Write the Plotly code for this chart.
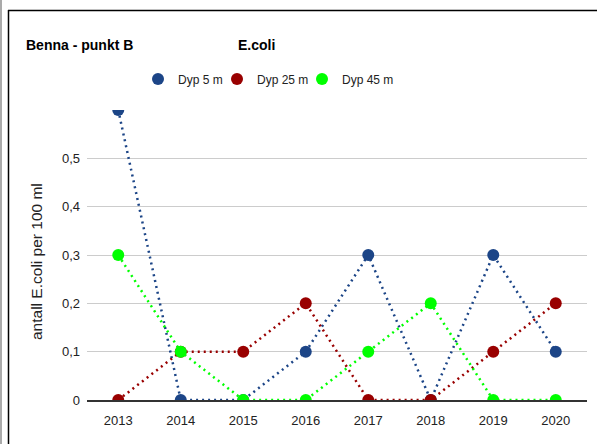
import plotly.graph_objects as go

# data
years = ["2013", "2014", "2015", "2016", "2017", "2018", "2019", "2020"]
dyp_5 = [0.6, 0, 0, 0.1, 0.3, 0, 0.3, 0.1]
dyp_25 = [0, 0.1, 0.1, 0.2, 0, 0, 0.1, 0.2]
dyp_45 = [0.3, 0.1, 0, 0, 0.1, 0.2, 0, 0]
y_ticks = [0, 0.1, 0.2, 0.3, 0.4, 0.5]

series = [
    ("Dyp 5 m", dyp_5, "#1c4587"),
    ("Dyp 25 m", dyp_25, "#990000"),
    ("Dyp 45 m", dyp_45, "#00ff00"),
]

# pixel -> paper helpers (plot area 87..587 x 110..400)
L, R, T, B = 87, 10, 110, 44
W, H = 597 - L - R, 444 - T - B
px = lambda v: (v - L) / W
py = lambda v: (444 - B - v) / H

legend_ids = ["legend", "legend2", "legend3"]
legend_left = [138, 217, 302]

fig = go.Figure()
for name, vals, col in series:
    fig.add_trace(go.Scatter(
        x=years, y=vals, name=name, mode="lines+markers",
        line=dict(color=col, width=2.5, dash="2px,4px"),
        marker=dict(color=col, size=12), showlegend=False,
    ))
# legend entries show only the dot, one small legend per series
for (name, vals, col), lg in zip(series, legend_ids):
    fig.add_trace(go.Scatter(
        x=[None], y=[None], name=name, mode="markers", legend=lg,
        marker=dict(color=col, size=12),
    ))

legend_style = dict(orientation="h", y=py(79), xanchor="left", yanchor="middle",
                    font=dict(size=12), itemclick=False, bgcolor="rgba(0,0,0,0)")

fig.update_layout(
    width=597, height=444,
    margin=dict(l=L, r=R, t=T, b=B),
    paper_bgcolor="white", plot_bgcolor="white",
    font=dict(family="Liberation Sans, Arial, sans-serif", color="#222", size=13),
    separators=", ",
    hovermode=False,
    xaxis=dict(type="category", range=[-0.5, 7.5], showgrid=False, showline=True,
               linecolor="#333", linewidth=1.5, ticks="", ticklabelstandoff=8,
               tickfont=dict(size=13), fixedrange=True),
    yaxis=dict(range=[0, 0.6], tickvals=y_ticks, showgrid=True, gridcolor="#cccccc",
               gridwidth=1, zeroline=False, showline=False, ticks="",
               ticklabelstandoff=6, tickfont=dict(size=13), fixedrange=True),
    annotations=[
        dict(text="<b>Benna - punkt B</b>", xref="paper", yref="paper", x=px(24), y=py(45),
             xanchor="left", yanchor="middle", showarrow=False, font=dict(size=14, color="#000")),
        dict(text="<b>E.coli</b>", xref="paper", yref="paper", x=px(236), y=py(45),
             xanchor="left", yanchor="middle", showarrow=False, font=dict(size=14, color="#000")),
        dict(text="antall E.coli per 100 ml", xref="paper", yref="paper", x=px(36), y=py(262),
             xanchor="center", yanchor="middle", textangle=-90, showarrow=False,
             font=dict(size=15.5, color="#222")),
    ],
    shapes=[
        dict(type="line", xref="paper", yref="paper", x0=px(1), x1=px(1), y0=py(0), y1=py(460),
             line=dict(color="#aaaaaa", width=2)),
        dict(type="line", xref="paper", yref="paper", x0=px(8.5), x1=px(8.5), y0=py(10), y1=py(460),
             line=dict(color="#000", width=1.5)),
        dict(type="line", xref="paper", yref="paper", x0=px(8), x1=px(600), y0=py(10.5), y1=py(10.5),
             line=dict(color="#000", width=1.5)),
    ],
)
for lg, left in zip(legend_ids, legend_left):
    fig.update_layout({lg: dict(legend_style, x=px(left))})

# drop the browser's default page margin so the figure sits at (0, 0)
fig.write_html("out.html", config={"displayModeBar": False},
               post_script="document.body.style.margin='0';")
